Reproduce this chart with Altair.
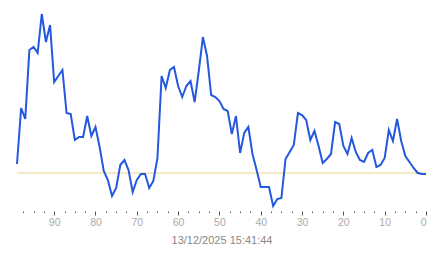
import altair as alt
import pandas as pd

seconds_ago = list(range(99, -1, -1))
values = [
    9, 65, 54, 123, 126, 120, 159, 131, 148, 91,
    97, 103, 60, 59, 33, 36, 36, 57, 37, 46,
    26, 2, -7, -23, -15, 8, 13, 3, -19, -7,
    -1, -1, -15, -8, 15, 97, 85, 103, 106, 87,
    76, 87, 92, 71, 102, 136, 117, 78, 76, 72,
    64, 62, 39, 57, 20, 40, 46, 19, 3, -14,
    -14, -14, -33, -26, -25, 14, 21, 28, 60, 58,
    53, 33, 42, 27, 10, 14, 19, 51, 49, 27,
    19, 35, 21, 13, 11, 20, 23, 6, 8, 15,
    43, 32, 54, 32, 17, 11, 5, 0, -1, -1,
]
reference_level = [0]
tick_values = [i * 2.5 for i in range(40)]
timestamp = "13/12/2025 15:41:44"

df = pd.DataFrame({"t": seconds_ago, "v": values})
ref = pd.DataFrame({"v": reference_level})

x_axis = alt.Axis(
    values=tick_values,
    labelExpr="datum.value % 10 === 0 ? datum.label : ''",
    tickSize={"condition": {"test": "datum.value % 10 === 0", "value": 4}, "value": 1.5},
    tickColor="#555",
    tickWidth=1,
    domain=False,
    grid=False,
    labelColor="#aaa",
    labelFont="Liberation Sans",
    labelFontSize=10.5,
    labelPadding=2,
    title=timestamp,
    titleColor="#888",
    titleFont="Liberation Sans",
    titleFontSize=11,
    titleFontWeight="normal",
    titlePadding=7,
)

xs = alt.Scale(domain=[0, 99], reverse=True, nice=False)
ys = alt.Scale(domain=[-38, 168], nice=False, zero=False)

line = alt.Chart(df).mark_line(color="#2459de", strokeWidth=2).encode(
    x=alt.X("t:Q", scale=xs, axis=x_axis),
    y=alt.Y("v:Q", scale=ys, axis=None),
)

rule = alt.Chart(ref).mark_rule(color="#ecd488", strokeWidth=1).encode(
    y=alt.Y("v:Q", scale=ys, axis=None),
)

chart = alt.layer(rule, line).properties(
    width=409,
    height=206,
    autosize=alt.AutoSizeParams(type="none"),
    padding={"left": 17, "top": 5, "right": 17, "bottom": 47},
).configure_view(stroke=None)

chart.save("out.html", embed_options={"renderer": "svg", "actions": False})
